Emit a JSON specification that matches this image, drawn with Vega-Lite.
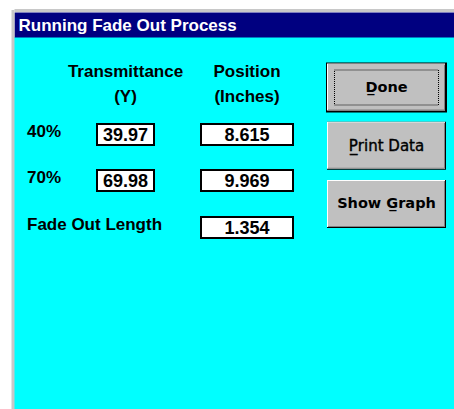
{
  "$schema": "https://vega.github.io/schema/vega-lite/v6.json",
  "width": 440,
  "height": 372,
  "autosize": {"type": "none"},
  "padding": {"left": 14, "top": 37, "right": 0, "bottom": 0},
  "background": "#ffffff",
  "config": {"view": {"fill": "#00ffff", "stroke": null}},
  "datasets": {
    "headers": [
      {"heading": "Transmittance", "row": 0, "col": 1},
      {"heading": "(Y)", "row": 1, "col": 1},
      {"heading": "Position", "row": 0, "col": 2},
      {"heading": "(Inches)", "row": 1, "col": 2}
    ],
    "points": [
      {"point": "40%", "row": 2, "col": 0},
      {"point": "70%", "row": 3, "col": 0},
      {"point": "Fade Out Length", "row": 4, "col": 0}
    ],
    "readings": [
      {"point": "40%", "measure": "Transmittance", "row": 2, "col": 1, "value": 39.97},
      {"point": "40%", "measure": "Position", "row": 2, "col": 2, "value": 8.615},
      {"point": "70%", "measure": "Transmittance", "row": 3, "col": 1, "value": 69.98},
      {"point": "70%", "measure": "Position", "row": 3, "col": 2, "value": 9.969},
      {"point": "Fade Out Length", "measure": "Position", "row": 4, "col": 2, "value": 1.354}
    ],
    "buttons": [
      {"button": "D̲one", "slot": 0, "col": 3},
      {"button": "P̲rint Data", "slot": 1, "col": 3},
      {"button": "Show G̲raph", "slot": 2, "col": 3}
    ]
  },
  "resolve": {"scale": {"y": "independent"}, "axis": {"y": "independent"}},
  "layer": [
    {
      "layer": [
        {
          "data": {"name": "headers"},
          "mark": {"type": "text", "font": "Liberation Sans", "fontSize": 17, "fontWeight": "bold", "align": "center", "baseline": "middle", "color": "#000000"},
          "encoding": {
            "x": {"field": "col", "type": "quantitative",
              "scale": {"type": "linear", "domain": [-1, 0, 1, 2, 3, 4], "range": [0, 13, 111.5, 233, 372.5, 440], "nice": false, "zero": false},
              "axis": {"orient": "top", "offset": 12.5, "domainColor": "#000080", "domainWidth": 25, "domainCap": "butt", "labels": false, "ticks": false, "grid": false,
                "title": "Running Fade Out Process", "titleColor": "#ffffff", "titleFont": "Liberation Sans", "titleFontSize": 17, "titleFontWeight": "bold",
                "titleAnchor": "start", "titleAlign": "left", "titleBaseline": "alphabetic", "titleX": 4, "titleY": 5.5, "titlePadding": 0}},
            "y": {"field": "row", "type": "quantitative",
              "scale": {"type": "linear", "domain": [-1, 0, 1, 2, 3, 4, 5], "range": [-27.5, 35, 60, 97.5, 143.5, 190.5, 372], "nice": false, "zero": false},
              "axis": {"orient": "left", "offset": 1.5, "domainColor": "#c8c8c8", "domainWidth": 3, "labels": false, "ticks": false, "grid": true, "gridColor": "#c8c8c8", "gridWidth": 3, "values": [-1], "title": null}},
            "text": {"field": "heading", "type": "nominal"}
          }
        },
        {
          "data": {"name": "points"},
          "mark": {"type": "text", "font": "Liberation Sans", "fontSize": 17, "fontWeight": "bold", "align": "left", "baseline": "middle", "dy": -3, "color": "#000000"},
          "encoding": {
            "x": {"field": "col", "type": "quantitative", "scale": {"type": "linear", "domain": [-1, 0, 1, 2, 3, 4], "range": [0, 13, 111.5, 233, 372.5, 440], "nice": false, "zero": false}},
            "y": {"field": "row", "type": "quantitative", "scale": {"type": "linear", "domain": [-1, 0, 1, 2, 3, 4, 5], "range": [-27.5, 35, 60, 97.5, 143.5, 190.5, 372], "nice": false, "zero": false}},
            "text": {"field": "point", "type": "nominal"}
          }
        },
        {
          "data": {"name": "readings"},
          "transform": [{"filter": "datum.measure === 'Transmittance'"}],
          "mark": {"type": "rect", "width": 57, "height": 21, "fill": "#ffffff", "stroke": "#000000", "strokeWidth": 2},
          "encoding": {
            "x": {"field": "col", "type": "quantitative", "scale": {"type": "linear", "domain": [-1, 0, 1, 2, 3, 4], "range": [0, 13, 111.5, 233, 372.5, 440], "nice": false, "zero": false}},
            "y": {"field": "row", "type": "quantitative", "scale": {"type": "linear", "domain": [-1, 0, 1, 2, 3, 4, 5], "range": [-27.5, 35, 60, 97.5, 143.5, 190.5, 372], "nice": false, "zero": false}}
          }
        },
        {
          "data": {"name": "readings"},
          "transform": [{"filter": "datum.measure === 'Position'"}],
          "mark": {"type": "rect", "width": 92, "height": 21, "fill": "#ffffff", "stroke": "#000000", "strokeWidth": 2},
          "encoding": {
            "x": {"field": "col", "type": "quantitative", "scale": {"type": "linear", "domain": [-1, 0, 1, 2, 3, 4], "range": [0, 13, 111.5, 233, 372.5, 440], "nice": false, "zero": false}},
            "y": {"field": "row", "type": "quantitative", "scale": {"type": "linear", "domain": [-1, 0, 1, 2, 3, 4, 5], "range": [-27.5, 35, 60, 97.5, 143.5, 190.5, 372], "nice": false, "zero": false}}
          }
        },
        {
          "data": {"name": "readings"},
          "transform": [{"filter": "datum.measure === 'Transmittance'"}],
          "mark": {"type": "text", "font": "Liberation Sans", "fontSize": 18, "fontWeight": "bold", "align": "center", "baseline": "middle", "dy": 1, "color": "#000000"},
          "encoding": {
            "x": {"field": "col", "type": "quantitative", "scale": {"type": "linear", "domain": [-1, 0, 1, 2, 3, 4], "range": [0, 13, 111.5, 233, 372.5, 440], "nice": false, "zero": false}},
            "y": {"field": "row", "type": "quantitative", "scale": {"type": "linear", "domain": [-1, 0, 1, 2, 3, 4, 5], "range": [-27.5, 35, 60, 97.5, 143.5, 190.5, 372], "nice": false, "zero": false}},
            "text": {"field": "value", "type": "quantitative", "format": ".2f"}
          }
        },
        {
          "data": {"name": "readings"},
          "transform": [{"filter": "datum.measure === 'Position'"}],
          "mark": {"type": "text", "font": "Liberation Sans", "fontSize": 18, "fontWeight": "bold", "align": "center", "baseline": "middle", "dy": 1, "color": "#000000"},
          "encoding": {
            "x": {"field": "col", "type": "quantitative", "scale": {"type": "linear", "domain": [-1, 0, 1, 2, 3, 4], "range": [0, 13, 111.5, 233, 372.5, 440], "nice": false, "zero": false}},
            "y": {"field": "row", "type": "quantitative", "scale": {"type": "linear", "domain": [-1, 0, 1, 2, 3, 4, 5], "range": [-27.5, 35, 60, 97.5, 143.5, 190.5, 372], "nice": false, "zero": false}},
            "text": {"field": "value", "type": "quantitative", "format": ".3f"}
          }
        }
      ]
    },
    {
      "data": {"name": "buttons"},
      "encoding": {
        "x": {"field": "col", "type": "quantitative", "scale": {"type": "linear", "domain": [-1, 0, 1, 2, 3, 4], "range": [0, 13, 111.5, 233, 372.5, 440], "nice": false, "zero": false}},
        "y": {"field": "slot", "type": "quantitative", "scale": {"type": "linear", "domain": [0, 2], "range": [50.5, 167], "nice": false, "zero": false}, "axis": null}
      },
      "layer": [
        {"transform": [{"filter": "datum.slot === 0"}], "mark": {"type": "rect", "width": 121, "height": 50, "fill": "#000000"}},
        {"mark": {"type": "rect", "width": 119, "height": 48, "fill": "#000000"}},
        {"mark": {"type": "rect", "width": 118, "height": 47, "xOffset": -0.5, "yOffset": -0.5, "fill": "#ffffff"}},
        {"mark": {"type": "rect", "width": 117, "height": 46, "fill": "#808080"}},
        {"mark": {"type": "rect", "width": 116, "height": 45, "xOffset": -0.5, "yOffset": -0.5, "fill": "#c0c0c0"}},
        {"transform": [{"filter": "datum.slot === 0"}], "mark": {"type": "rect", "width": 104, "height": 35, "fill": null, "stroke": "#000000", "strokeWidth": 1, "strokeDash": [1, 1]}},
        {"transform": [{"filter": "datum.slot !== 1"}], "mark": {"type": "text", "font": "DejaVu Sans", "fontSize": 14.5, "fontWeight": "bold", "align": "center", "baseline": "middle", "color": "#000000"}, "encoding": {"text": {"field": "button", "type": "nominal"}}},
        {"transform": [{"filter": "datum.slot === 1"}], "mark": {"type": "text", "font": "DejaVu Sans", "fontSize": 15, "fontWeight": "normal", "align": "center", "baseline": "middle", "color": "#000000", "stroke": "#000000", "strokeWidth": 0.4}, "encoding": {"text": {"field": "button", "type": "nominal"}}}
      ]
    }
  ]
}
